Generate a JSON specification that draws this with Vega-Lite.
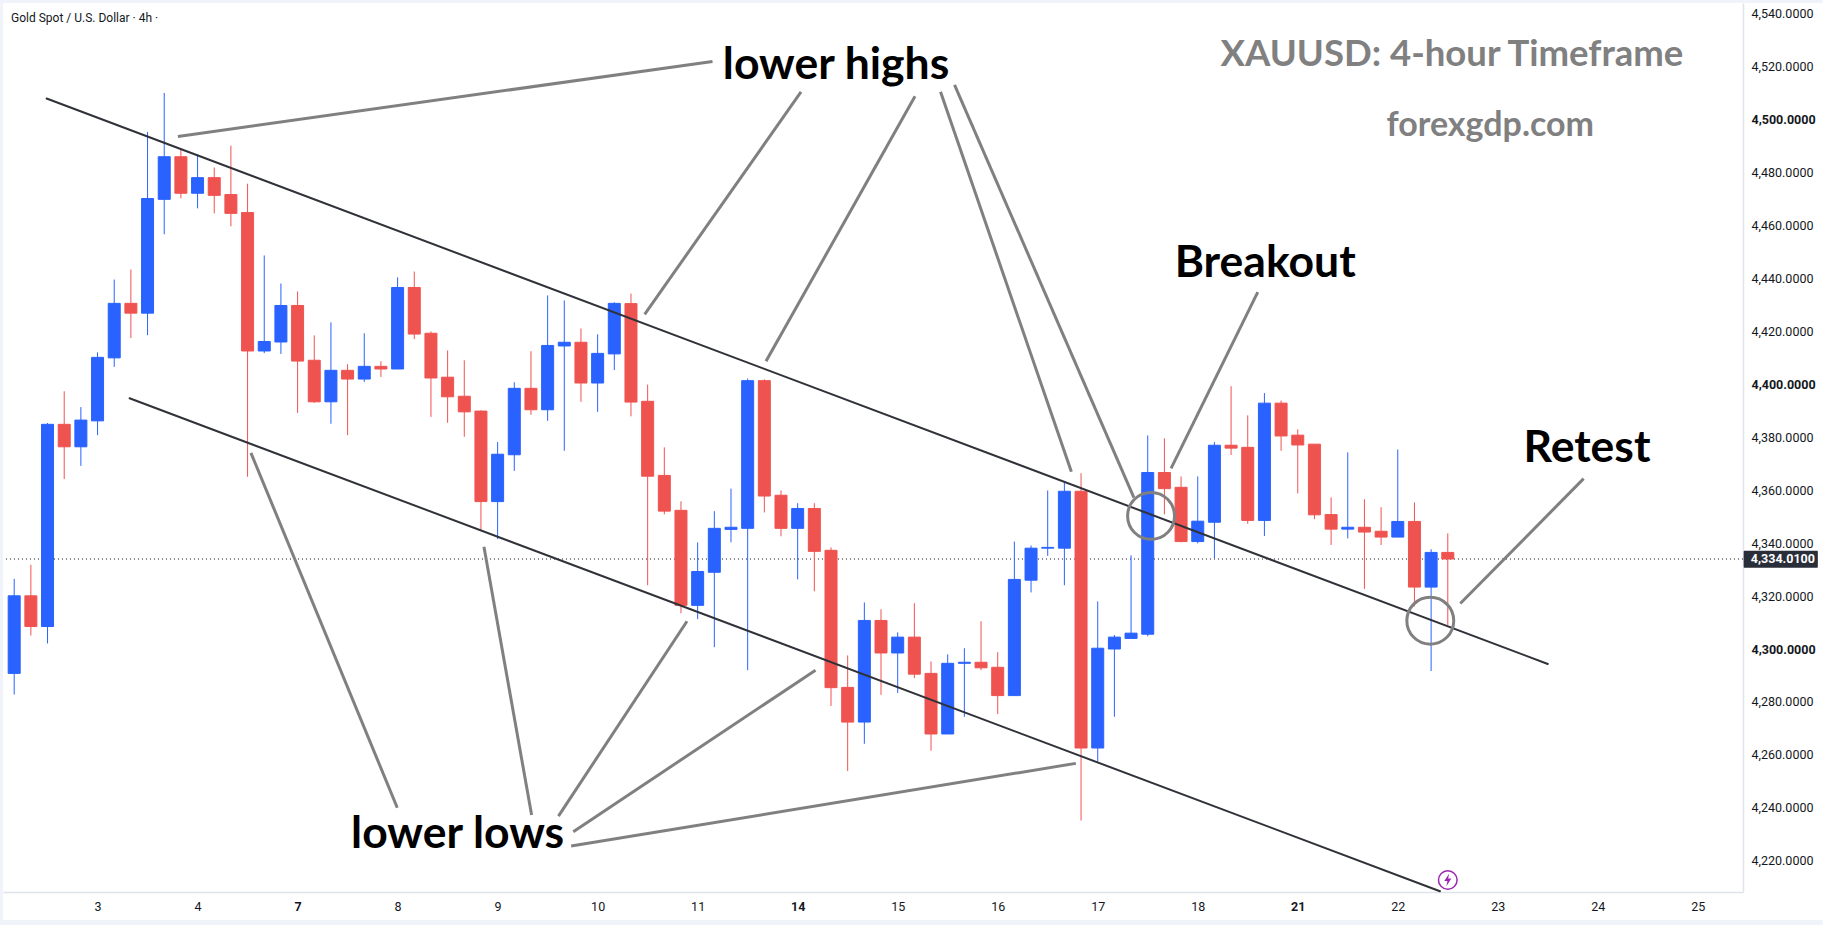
{"$schema":"https://vega.github.io/schema/vega-lite/v6.json","width":1740,"height":889,"autosize":"none","padding":{"left":3,"top":3,"right":80,"bottom":33},"background":"#ffffff","view":{"stroke":null,"fill":"#ffffff"},
"datasets":{
"candles":[
{"n":0,"o":4290.8,"h":4326.5,"l":4282.8,"c":4320.1},{"n":1,"o":4320.1,"h":4331.8,"l":4305.1,"c":4308.5},{"n":2,"o":4308.5,"h":4385.4,"l":4302.1,"c":4384.9},{"n":3,"o":4384.9,"h":4397.4,"l":4364.2,"c":4376.4},{"n":4,"o":4376.4,"h":4391.4,"l":4369.2,"c":4386.5},{"n":5,"o":4386.2,"h":4412.1,"l":4380.8,"c":4410.2},{"n":6,"o":4410,"h":4439.6,"l":4406.6,"c":4430.6},{"n":7,"o":4430.6,"h":4443.4,"l":4417.5,"c":4426.9},{"n":8,"o":4426.9,"h":4495.4,"l":4418.6,"c":4470.2},{"n":9,"o":4469.9,"h":4510.1,"l":4456.7,"c":4486},
{"n":10,"o":4486,"h":4489.2,"l":4470.3,"c":4472.2},{"n":11,"o":4472.2,"h":4486.8,"l":4466.5,"c":4478.1},{"n":12,"o":4478.1,"h":4481.9,"l":4464.6,"c":4471.4},{"n":13,"o":4471.7,"h":4490.2,"l":4459.7,"c":4464.6},{"n":14,"o":4464.9,"h":4475.8,"l":4365.1,"c":4412.6},{"n":15,"o":4412.6,"h":4448.7,"l":4411.8,"c":4416.2},{"n":16,"o":4416,"h":4438.1,"l":4411.5,"c":4429.8},{"n":17,"o":4429.8,"h":4435.1,"l":4389.2,"c":4408.8},{"n":18,"o":4409.1,"h":4418.5,"l":4393,"c":4393.4},{"n":19,"o":4393.4,"h":4423.4,"l":4385.1,"c":4405.3},
{"n":20,"o":4405.3,"h":4407.6,"l":4380.8,"c":4402},{"n":21,"o":4402,"h":4419.3,"l":4400.9,"c":4406.8},{"n":22,"o":4406.8,"h":4408.7,"l":4402.8,"c":4405.8},{"n":23,"o":4405.8,"h":4440.4,"l":4405.8,"c":4436.6},{"n":24,"o":4436.6,"h":4442.6,"l":4417.1,"c":4419},{"n":25,"o":4419.3,"h":4420,"l":4387.7,"c":4402.4},{"n":26,"o":4402.7,"h":4412.8,"l":4385.5,"c":4395.3},{"n":27,"o":4395.5,"h":4409.1,"l":4380.2,"c":4389.6},{"n":28,"o":4389.9,"h":4390.2,"l":4345,"c":4355.7},{"n":29,"o":4355.7,"h":4378.2,"l":4341.5,"c":4373.6},
{"n":30,"o":4373.4,"h":4400.8,"l":4367.3,"c":4398.5},{"n":31,"o":4398.5,"h":4412.5,"l":4388.5,"c":4390.4},{"n":32,"o":4390.4,"h":4433.6,"l":4386.2,"c":4414.7},{"n":33,"o":4414.5,"h":4431.7,"l":4374.9,"c":4415.9},{"n":34,"o":4415.9,"h":4421.1,"l":4393.4,"c":4400.5},{"n":35,"o":4400.5,"h":4418.9,"l":4389.6,"c":4411.7},{"n":36,"o":4411.5,"h":4431,"l":4405.4,"c":4430.6},{"n":37,"o":4430.5,"h":4434.3,"l":4387.9,"c":4393.3},{"n":38,"o":4393.6,"h":4399.9,"l":4324.1,"c":4365.3},{"n":39,"o":4365.6,"h":4376.2,"l":4350.9,"c":4352.1},
{"n":40,"o":4352.4,"h":4355.8,"l":4313.5,"c":4316.5},{"n":41,"o":4316.5,"h":4340.3,"l":4311.3,"c":4329.3},{"n":42,"o":4329,"h":4352.1,"l":4300.7,"c":4345.6},{"n":43,"o":4345.2,"h":4360.6,"l":4340.3,"c":4346},{"n":44,"o":4345.6,"h":4402.2,"l":4292,"c":4401.4},{"n":45,"o":4401.4,"h":4401.9,"l":4351.6,"c":4357.8},{"n":46,"o":4358.1,"h":4359.9,"l":4342.6,"c":4345.6},{"n":47,"o":4345.6,"h":4355.1,"l":4326.3,"c":4353.1},{"n":48,"o":4353.1,"h":4355.1,"l":4321.8,"c":4336.9},{"n":49,"o":4337.3,"h":4338.4,"l":4278.5,"c":4285.4},
{"n":50,"o":4285.5,"h":4297.6,"l":4253.9,"c":4272.4},{"n":51,"o":4272.4,"h":4317.6,"l":4264.2,"c":4310.8},{"n":52,"o":4310.8,"h":4315,"l":4282.7,"c":4298.5},{"n":53,"o":4298.5,"h":4306.3,"l":4283.4,"c":4304.5},{"n":54,"o":4304.5,"h":4317.3,"l":4289,"c":4290.5},{"n":55,"o":4290.8,"h":4295.3,"l":4261.6,"c":4267.9},{"n":56,"o":4267.9,"h":4298,"l":4267.9,"c":4294.6},{"n":57,"o":4294.6,"h":4300.3,"l":4274.4,"c":4295},{"n":58,"o":4295,"h":4310.5,"l":4292,"c":4292.9},{"n":59,"o":4293.1,"h":4298.8,"l":4275.4,"c":4282.4},
{"n":60,"o":4282.4,"h":4340.6,"l":4282.4,"c":4326.3},{"n":61,"o":4326,"h":4339.1,"l":4321.4,"c":4338.1},{"n":62,"o":4338.1,"h":4359.9,"l":4335.2,"c":4338.4},{"n":63,"o":4338.1,"h":4363.5,"l":4324.1,"c":4359.6},{"n":64,"o":4359.6,"h":4366.4,"l":4235.2,"c":4262.6},{"n":65,"o":4262.6,"h":4318,"l":4257.5,"c":4300.3},{"n":66,"o":4300,"h":4305.3,"l":4274.4,"c":4304.5},{"n":67,"o":4304,"h":4335.4,"l":4304,"c":4306},{"n":68,"o":4305.6,"h":4380.7,"l":4304.8,"c":4366.7},{"n":69,"o":4366.7,"h":4379.6,"l":4350.9,"c":4360.6},
{"n":70,"o":4361.1,"h":4365.2,"l":4340.3,"c":4340.6},{"n":71,"o":4340.6,"h":4365.2,"l":4339.9,"c":4348.3},{"n":72,"o":4347.9,"h":4378.2,"l":4334.3,"c":4377},{"n":73,"o":4377,"h":4399.3,"l":4373.3,"c":4375.9},{"n":74,"o":4376.2,"h":4388.3,"l":4347.3,"c":4348.6},{"n":75,"o":4348.6,"h":4396.7,"l":4342.7,"c":4392.9},{"n":76,"o":4392.9,"h":4393.9,"l":4374.9,"c":4380.5},{"n":77,"o":4380.8,"h":4383,"l":4358.8,"c":4377.1},{"n":78,"o":4377.4,"h":4377.4,"l":4349.1,"c":4350.7},{"n":79,"o":4350.8,"h":4357.3,"l":4339.3,"c":4345.3},
{"n":80,"o":4345.3,"h":4374.3,"l":4341.8,"c":4346},{"n":81,"o":4346,"h":4356.6,"l":4322.7,"c":4344.2},{"n":82,"o":4344.5,"h":4353.6,"l":4339.3,"c":4342.3},{"n":83,"o":4342.3,"h":4375.4,"l":4342.3,"c":4348.2},{"n":84,"o":4348.2,"h":4355.4,"l":4316.1,"c":4323.4},{"n":85,"o":4323.4,"h":4337.7,"l":4291.7,"c":4336.5},{"n":86,"o":4336.5,"h":4343.7,"l":4308.9,"c":4334.01}],
"trend":[{"x":1.944,"y":4507.99,"x2":92.0,"y2":4294.34},{"x":6.92,"y":4394.75,"x2":85.53,"y2":4208.5}],
"pointers":[{"x":9.82,"y":4493.66,"x2":41.89,"y2":4522.01},{"x":37.82,"y":4426.43,"x2":47.2,"y2":4510.51},{"x":45.1,"y":4408.7,"x2":54.04,"y2":4508.82},{"x":63.42,"y":4366.96,"x2":55.57,"y2":4510.51},{"x":67.17,"y":4357.2,"x2":56.41,"y2":4513.15},{"x":74.6,"y":4434.83,"x2":69.4,"y2":4368.28},{"x":94.15,"y":4364.36,"x2":86.75,"y2":4317.19},{"x":14.2,"y":4374.13,"x2":22.98,"y2":4240.04},{"x":28.18,"y":4338.68,"x2":31.04,"y2":4237.25},{"x":40.36,"y":4310.51,"x2":32.65,"y2":4236.87},{"x":48.07,"y":4292,"x2":33.54,"y2":4230.99},{"x":63.69,"y":4256.8,"x2":33.41,"y2":4225.56}],
"circles":[{"x":68.2,"y":4350.3},{"x":84.95,"y":4310.7}],
"big":[{"x":49.3,"y":4520.2,"t":"lower highs"},{"x":26.6,"y":4229.6,"t":"lower lows"},{"x":75.05,"y":4445.5,"t":"Breakout"},{"x":94.35,"y":4375.4,"t":"Retest"}],
"frame":[{"x":-0.852,"x2":108.5,"y":4545.2,"y2":4544.08},{"x":-0.852,"x2":-0.672,"y":4545.2,"y2":4195.7},{"x":-0.852,"x2":108.5,"y":4197.6,"y2":4195.7}]
},
"encoding":{"x":{"type":"quantitative"}},
"layer":[
{"data":{"name":"frame"},"mark":{"type":"rect","color":"#f0f3fa","clip":false},"encoding":{"x":{"field":"x","type":"quantitative","scale":{"domain":[-0.672,103.71],"nice":false,"zero":false,"padding":0},"axis":{"orient":"bottom","title":null,"grid":false,"values":[5,11,17,23,29,35,41,47,53,59,65,71,77,83,89,95,101],"labelExpr":"[3,4,7,8,9,10,11,14,15,16,17,18,21,22,23,24,25][(datum.value-5)/6]","ticks":false,"labelPadding":8,"labelFont":"Roboto","labelFontSize":12.5,"labelColor":"#131722","labelFontWeight":{"condition":{"test":"datum.value==17||datum.value==47||datum.value==77","value":"bold"},"value":"normal"},"domainColor":"#e0e3eb","domainWidth":1.5,"labelOverlap":false}},"x2":{"field":"x2"},"y":{"field":"y","type":"quantitative","scale":{"domain":[4208.2,4544.08],"nice":false,"zero":false,"padding":0},"axis":{"orient":"right","title":null,"grid":false,"values":[4220,4240,4260,4280,4300,4320,4340,4360,4380,4400,4420,4440,4460,4480,4500,4520,4540],"format":",.4f","ticks":false,"labelPadding":8,"labelFont":"Roboto","labelFontSize":12.5,"labelColor":"#131722","labelFontWeight":{"condition":{"test":"datum.value==4300||datum.value==4400||datum.value==4500","value":"bold"},"value":"normal"},"domainColor":"#e0e3eb","domainWidth":1.5,"labelOverlap":false}},"y2":{"field":"y2"}}},
{"data":{"values":[{"p":4334.01}]},"mark":{"type":"rule","color":"#131722","strokeDash":[1,3],"strokeWidth":1},"encoding":{"y":{"field":"p","type":"quantitative"}}},
{"data":{"name":"candles"},"mark":{"type":"rule","strokeWidth":1},"encoding":{"x":{"field":"n","type":"quantitative"},"y":{"field":"l","type":"quantitative"},"y2":{"field":"h"},"color":{"condition":{"test":"datum.c>=datum.o","value":"#2962FF"},"value":"#EF5350"}}},
{"data":{"name":"candles"},"mark":{"type":"bar","size":12,"strokeWidth":1},"encoding":{"x":{"field":"n","type":"quantitative"},"y":{"field":"o","type":"quantitative"},"y2":{"field":"c"},"color":{"condition":{"test":"datum.c>=datum.o","value":"#2962FF"},"value":"#EF5350"},"stroke":{"condition":{"test":"datum.c>=datum.o","value":"#2962FF"},"value":"#EF5350"}}},
{"data":{"name":"trend"},"mark":{"type":"rule","color":"#2f3238","strokeWidth":2,"strokeCap":"round"},"encoding":{"x":{"field":"x","type":"quantitative"},"x2":{"field":"x2"},"y":{"field":"y","type":"quantitative"},"y2":{"field":"y2"}}},
{"data":{"name":"pointers"},"mark":{"type":"rule","color":"#808080","strokeWidth":3},"encoding":{"x":{"field":"x","type":"quantitative"},"x2":{"field":"x2"},"y":{"field":"y","type":"quantitative"},"y2":{"field":"y2"}}},
{"data":{"name":"circles"},"mark":{"type":"point","shape":"circle","filled":false,"color":"#808080","strokeWidth":3,"opacity":1,"size":2200},"encoding":{"x":{"field":"x","type":"quantitative"},"y":{"field":"y","type":"quantitative"}}},
{"data":{"name":"big"},"mark":{"type":"text","font":"Lato","fontWeight":"bold","fontSize":44.5,"color":"#000000"},"encoding":{"x":{"field":"x","type":"quantitative"},"y":{"field":"y","type":"quantitative"},"text":{"field":"t"}}},
{"data":{"values":[{"x":86.25,"y":4524.5,"t":"XAUUSD: 4-hour Timeframe"}]},"mark":{"type":"text","font":"Lato","fontWeight":"bold","fontSize":36.5,"color":"#808080"},"encoding":{"x":{"field":"x","type":"quantitative"},"y":{"field":"y","type":"quantitative"},"text":{"field":"t"}}},
{"data":{"values":[{"x":88.55,"y":4497.7,"t":"forexgdp.com"}]},"mark":{"type":"text","font":"Lato","fontWeight":"bold","fontSize":34,"color":"#808080"},"encoding":{"x":{"field":"x","type":"quantitative"},"y":{"field":"y","type":"quantitative"},"text":{"field":"t"}}},
{"data":{"values":[{"x":-0.19,"y":4538.6,"t":"Gold Spot / U.S. Dollar · 4h ·"}]},"mark":{"type":"text","font":"Roboto","fontSize":12,"align":"left","color":"#131722"},"encoding":{"x":{"field":"x","type":"quantitative"},"y":{"field":"y","type":"quantitative"},"text":{"field":"t"}}},
{"data":{"values":[{"x":103.75,"x2":108.2,"y":4337.1,"y2":4330.7}]},"mark":{"type":"rect","color":"#2a2e39","clip":false,"cornerRadius":1},"encoding":{"x":{"field":"x","type":"quantitative"},"x2":{"field":"x2"},"y":{"field":"y","type":"quantitative"},"y2":{"field":"y2"}}},
{"data":{"values":[{"x":104.18,"y":4334.01,"t":"4,334.0100"}]},"mark":{"type":"text","font":"Roboto","fontSize":12.5,"fontWeight":"bold","align":"left","color":"#ffffff"},"encoding":{"x":{"field":"x","type":"quantitative"},"y":{"field":"y","type":"quantitative"},"text":{"field":"t"}}},
{"data":{"values":[{"x":86.0,"y":4212.74}]},"mark":{"type":"point","shape":"circle","filled":false,"color":"#9c27b0","strokeWidth":1.5,"opacity":1,"size":346},"encoding":{"x":{"field":"x","type":"quantitative"},"y":{"field":"y","type":"quantitative"}}},
{"data":{"values":[{"x":86.0,"y":4212.74}]},"mark":{"type":"point","shape":"M0.2,-0.9L-0.5,0.15L-0.05,0.15L-0.2,0.9L0.5,-0.2L0.05,-0.2Z","filled":true,"color":"#9c27b0","size":200,"opacity":1},"encoding":{"x":{"field":"x","type":"quantitative"},"y":{"field":"y","type":"quantitative"}}}
]}
